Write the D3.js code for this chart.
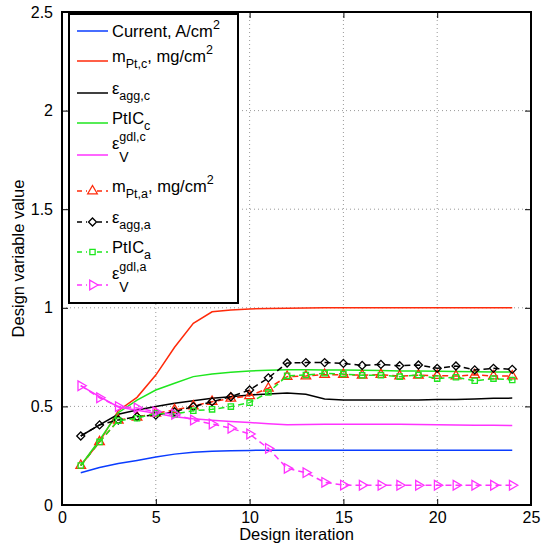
<!DOCTYPE html>
<html>
<head>
<meta charset="utf-8">
<script src="https://cdn.jsdelivr.net/npm/d3@7"></script>
<style>
  body { margin: 0; background: #fff; }
  svg { font-family: "Liberation Sans", Arial, sans-serif; }
</style>
</head>
<body>
<svg class="chart" width="543" height="550"></svg>
<script>
// design iterations
const iterations = d3.range(1, 25);

// cathode variables (solid lines)
const current = [0.164, 0.19, 0.21, 0.226, 0.243, 0.258, 0.268, 0.273, 0.275, 0.277, 0.278, 0.278, 0.278, 0.278, 0.278, 0.278, 0.278, 0.278, 0.278, 0.278, 0.278, 0.278, 0.278, 0.278];
const mPtC = [0.2, 0.32, 0.478, 0.546, 0.659, 0.8, 0.921, 0.98, 0.989, 0.994, 0.997, 0.998, 0.999, 1, 1, 1, 1, 1, 1, 1, 1, 1, 1, 1];
const epsAggC = [0.35, 0.406, 0.46, 0.482, 0.499, 0.516, 0.529, 0.541, 0.549, 0.558, 0.563, 0.568, 0.562, 0.538, 0.532, 0.532, 0.532, 0.532, 0.533, 0.535, 0.535, 0.538, 0.541, 0.542];
const ptIcC = [0.2, 0.33, 0.468, 0.532, 0.583, 0.617, 0.651, 0.664, 0.673, 0.68, 0.683, 0.686, 0.686, 0.685, 0.684, 0.683, 0.682, 0.68, 0.679, 0.678, 0.677, 0.676, 0.675, 0.674];
const epsVC = [0.605, 0.55, 0.497, 0.48, 0.465, 0.447, 0.437, 0.43, 0.423, 0.418, 0.412, 0.407, 0.408, 0.41, 0.41, 0.41, 0.41, 0.409, 0.408, 0.407, 0.406, 0.404, 0.404, 0.403];

// anode variables (dashed lines with markers)
const mPtA = [0.2, 0.32, 0.43, 0.445, 0.465, 0.482, 0.502, 0.524, 0.541, 0.554, 0.592, 0.651, 0.654, 0.661, 0.661, 0.658, 0.661, 0.654, 0.658, 0.656, 0.654, 0.66, 0.654, 0.654];
const epsAggA = [0.35, 0.406, 0.431, 0.448, 0.456, 0.473, 0.499, 0.524, 0.549, 0.583, 0.645, 0.72, 0.722, 0.722, 0.718, 0.708, 0.713, 0.706, 0.71, 0.693, 0.705, 0.685, 0.693, 0.688];
const ptIcA = [0.2, 0.32, 0.428, 0.44, 0.465, 0.461, 0.478, 0.485, 0.499, 0.519, 0.571, 0.655, 0.659, 0.668, 0.664, 0.658, 0.658, 0.651, 0.659, 0.641, 0.648, 0.63, 0.641, 0.634];
const epsVA = [0.605, 0.544, 0.499, 0.492, 0.473, 0.46, 0.431, 0.411, 0.389, 0.36, 0.287, 0.186, 0.164, 0.115, 0.101, 0.1, 0.1, 0.1, 0.1, 0.1, 0.1, 0.1, 0.1, 0.1];

const xTicks = [0, 5, 10, 15, 20, 25];
const yTicks = [0, 0.5, 1, 1.5, 2, 2.5];

const blue = "#0a3cff", red = "#ff2a0a", black = "#000", green = "#1ee61e", magenta = "#ff33ff";

// legend labels: parts are [text, kind] where kind = main | sub | sup | stack (sub under previous sup)
const series = [
  { values: current, color: blue, label: [["Current, A/cm", "main"], ["2", "sup"]] },
  { values: mPtC, color: red, label: [["m", "main"], ["Pt,c", "sub"], [", mg/cm", "main"], ["2", "sup"]] },
  { values: epsAggC, color: black, label: [["\u03b5", "main"], ["agg,c", "sub"]] },
  { values: ptIcC, color: green, label: [["PtIC", "main"], ["c", "sub"]] },
  { values: epsVC, color: magenta, label: [["\u03b5", "main"], ["gdl,c", "sup"], ["V", "stack"]] },
  { values: mPtA, color: red, dashed: true, marker: "up", label: [["m", "main"], ["Pt,a", "sub"], [", mg/cm", "main"], ["2", "sup"]] },
  { values: epsAggA, color: black, dashed: true, marker: "diamond", label: [["\u03b5", "main"], ["agg,a", "sub"]] },
  { values: ptIcA, color: green, dashed: true, marker: "square", label: [["PtIC", "main"], ["a", "sub"]] },
  { values: epsVA, color: magenta, dashed: true, marker: "right", label: [["\u03b5", "main"], ["gdl,a", "sup"], ["V", "stack"]] },
];

const svg = d3.select(".chart");
const margin = { top: 12, right: 12, bottom: 45, left: 62 };
const width = 543, height = 550;

const x = d3.scaleLinear().domain([0, 25]).range([margin.left, width - margin.right]);
const y = d3.scaleLinear().domain([0, 2.5]).range([height - margin.bottom, margin.top]);

/*
      Grid
*/
const grid = svg.append("g").attr("stroke", "#999").attr("stroke-width", 1).attr("stroke-dasharray", "1,3");
grid.selectAll(".gx").data(xTicks.slice(1, -1)).join("line")
  .attr("x1", d => x(d)).attr("x2", d => x(d))
  .attr("y1", y(0)).attr("y2", y(2.5));
grid.selectAll(".gy").data(yTicks.slice(1, -1)).join("line")
  .attr("x1", x(0)).attr("x2", x(25))
  .attr("y1", d => y(d)).attr("y2", d => y(d));

/*
      Lines
*/
const line = d3.line().x((d, i) => x(iterations[i])).y(d => y(d));

function markerPath(type) {
  if (type === "up" || type === "right") return d3.symbol().type(d3.symbolTriangle).size(40)();
  if (type === "diamond") return d3.symbol().type(d3.symbolSquare).size(32)();
  return d3.symbol().type(d3.symbolSquare).size(28)();
}
function markerRotate(type) {
  if (type === "right") return 90;
  if (type === "diamond") return 45;
  return 0;
}

const plot = svg.append("g");
series.forEach(s => {
  plot.append("path")
    .datum(s.values)
    .attr("d", line)
    .attr("fill", "none")
    .attr("stroke", s.color)
    .attr("stroke-width", 1.5)
    .attr("stroke-dasharray", s.dashed ? "6,4" : null);
  if (s.marker) {
    plot.append("g").selectAll("path")
      .data(s.values)
      .join("path")
      .attr("d", markerPath(s.marker))
      .attr("transform", (d, i) => `translate(${x(iterations[i])},${y(d)}) rotate(${markerRotate(s.marker)})`)
      .attr("fill", "none")
      .attr("stroke", s.color)
      .attr("stroke-width", 1.3);
  }
});

/*
      Axes (MATLAB style box, ticks inside)
*/
const fmt = d3.format("~g");
const axisStyle = g => {
  g.select(".domain").remove();
  g.selectAll(".tick line").attr("stroke", "#000").attr("stroke-width", 1);
  g.selectAll(".tick text").attr("font-size", 16).attr("fill", "#000").attr("font-family", "Liberation Sans, Arial, sans-serif");
};
svg.append("g").attr("transform", `translate(0,${y(0)})`)
  .call(d3.axisBottom(x).tickValues(xTicks).tickSize(-6).tickPadding(7).tickFormat(fmt))
  .call(axisStyle);
svg.append("g").attr("transform", `translate(0,${y(2.5)})`)
  .call(d3.axisTop(x).tickValues(xTicks).tickSize(-6).tickFormat(""))
  .call(axisStyle);
svg.append("g").attr("transform", `translate(${x(0)},0)`)
  .call(d3.axisLeft(y).tickValues(yTicks).tickSize(-6).tickPadding(9).tickFormat(fmt))
  .call(axisStyle);
svg.append("g").attr("transform", `translate(${x(25)},0)`)
  .call(d3.axisRight(y).tickValues(yTicks).tickSize(-6).tickFormat(""))
  .call(axisStyle);

svg.append("rect")
  .attr("x", x(0)).attr("y", y(2.5))
  .attr("width", x(25) - x(0)).attr("height", y(0) - y(2.5))
  .attr("fill", "none").attr("stroke", "#000").attr("stroke-width", 2);

svg.append("text")
  .attr("x", (x(0) + x(25)) / 2).attr("y", 540)
  .attr("text-anchor", "middle").attr("font-size", 16.5)
  .text("Design iteration");
svg.append("text")
  .attr("transform", `translate(24,${(y(0) + y(2.5)) / 2}) rotate(-90)`)
  .attr("text-anchor", "middle").attr("font-size", 16.5)
  .text("Design variable value");

/*
      Legend
*/
const legendRowY = [31, 61, 93, 123, 155, 191, 222, 252, 285];
const legend = svg.append("g");
legend.append("rect")
  .attr("x", 69).attr("y", 14).attr("width", 169).attr("height", 289)
  .attr("fill", "#fff").attr("stroke", "#000").attr("stroke-width", 2);

series.forEach((s, k) => {
  const ly = legendRowY[k];
  legend.append("line")
    .attr("x1", 77).attr("x2", 108).attr("y1", ly).attr("y2", ly)
    .attr("stroke", s.color).attr("stroke-width", 1.5)
    .attr("stroke-dasharray", s.dashed ? "6,4" : null)
    .attr("stroke-dashoffset", s.dashed ? 1 : null);
  if (s.marker) {
    legend.append("rect").attr("x", 87).attr("y", ly - 5).attr("width", 10).attr("height", 10).attr("fill", "#fff");
    legend.append("path")
      .attr("d", markerPath(s.marker))
      .attr("transform", `translate(92.5,${ly}) rotate(${markerRotate(s.marker)})`)
      .attr("fill", "none").attr("stroke", s.color).attr("stroke-width", 1.3);
  }

  // baseline for main text depends on what is attached to it
  const kinds = s.label.map(p => p[1]);
  let base;
  if (kinds.includes("stack")) base = ly - 6;
  else if (kinds[1] === "sub") base = ly + 1;
  else base = ly + 6;

  let cx = 112, prevX = 112;
  s.label.forEach(([t, kind]) => {
    let ty = base, fs = 16.5, startX = cx;
    if (kind === "sub") { ty = base + 6; fs = 12.5; }
    if (kind === "sup") { ty = base - 8; fs = 12.5; }
    if (kind === "stack") { ty = base + 13; fs = 14; startX = prevX; }
    const el = legend.append("text")
      .attr("x", startX).attr("y", ty)
      .attr("font-size", fs)
      .text(t);
    prevX = startX;
    cx = startX + el.node().getComputedTextLength();
  });
});
</script>
</body>
</html>
